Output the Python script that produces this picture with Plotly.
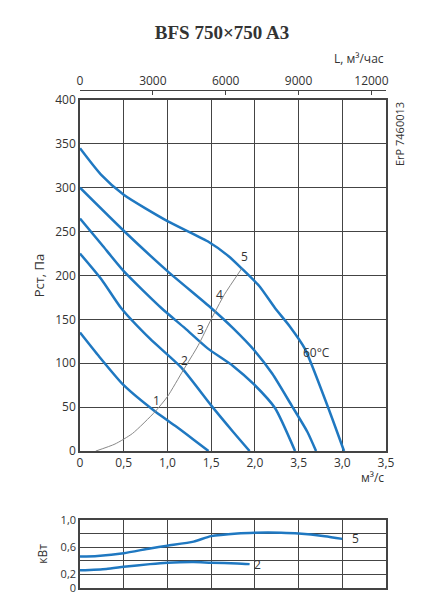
import plotly.graph_objects as go

c1_x=[0,0.2,0.5,0.86,1.1,1.3,1.47]; c1_y=[135,110,75,45,28,13,0]
c2_x=[0,0.25,0.47,0.8,1.16,1.5,1.75,1.94]; c2_y=[225,195,163,128,95,52,22,0]
c3_x=[0,0.25,0.5,0.93,1.2,1.46,1.75,2.0,2.23,2.46]; c3_y=[265,235,205,163,140,117,97,75,49,0]
c4_x=[0,0.5,1.0,1.5,1.75,2.0,2.2,2.42,2.6,2.7]; c4_y=[300,251,205,163,140,114,88,52,22,0]
c5_x=[0,0.24,0.5,1.0,1.46,1.7,1.85,2.05,2.23,2.4,2.57,2.84,3.02]; c5_y=[345,315,292,262,239,222,208,188,163,142,117,49,0]
sys_x=[0.18,0.4,0.6,0.86,1.0,1.18,1.35,1.5,1.65,1.85]; sys_y=[0,8,20,45,62,92,120,150,178,208]
p5_x=[0,0.2,0.5,0.8,1.0,1.3,1.5,1.8,2.0,2.3,2.5,2.8,3.0]; p5_y=[0.46,0.47,0.51,0.58,0.62,0.68,0.76,0.80,0.81,0.81,0.80,0.76,0.72]
p2_x=[0,0.3,0.5,0.8,1.0,1.3,1.5,1.8,1.94]; p2_y=[0.26,0.28,0.31,0.35,0.37,0.38,0.37,0.36,0.35]
x_ticks=[0,0.5,1,1.5,2,2.5,3,3.5]; x_labels=["0","0,5","1,0","1,5","2,0","3,5","3,0","3,5"]
top_ticks=[0,3000,6000,9000,12000]; top_labels=["0","3000","6000","9000","12000"]
y_ticks=[0,50,100,150,200,250,300,350,400]
p_ticks=[0,0.2,0.4,0.6,0.8,1.0]; p_labels=["0","0,2","","0,6","","1,0"]

blue="#1f78c1"; txt="#333333"
fig=go.Figure()
for x,y in [(c1_x,c1_y),(c2_x,c2_y),(c3_x,c3_y),(c4_x,c4_y),(c5_x,c5_y)]:
    fig.add_trace(go.Scatter(x=x,y=y,mode="lines",line=dict(color=blue,width=2.5,shape="spline",smoothing=0.6),xaxis="x",yaxis="y"))
fig.add_trace(go.Scatter(x=sys_x,y=sys_y,mode="lines",line=dict(color="#888",width=1,shape="spline",smoothing=0.6),xaxis="x",yaxis="y"))
for x,y in [(p5_x,p5_y),(p2_x,p2_y)]:
    fig.add_trace(go.Scatter(x=x,y=y,mode="lines",line=dict(color=blue,width=2.5,shape="spline",smoothing=0.6),xaxis="x2",yaxis="y2"))
fig.add_trace(go.Scatter(x=[0],y=[None],xaxis="x3",yaxis="y",showlegend=False))

ax=dict(showline=True,linecolor="#444",linewidth=1.5,mirror=True,gridcolor="#444",gridwidth=1,zeroline=False,
        tickfont=dict(size=12,color=txt),ticks="",automargin=False)
fig.update_layout(
    width=428,height=600,showlegend=False,plot_bgcolor="white",paper_bgcolor="white",
    margin=dict(l=72,r=50,t=82,b=20),font=dict(family="Open Sans",color=txt),
    xaxis=dict(ax,range=[0,3.5],tickvals=x_ticks,ticktext=x_labels,anchor="y"),
    yaxis=dict(ax,range=[0,400],tickvals=y_ticks,domain=[0.275,0.98],
               title=dict(text="Рст, Па",font=dict(size=13),standoff=8)),
    xaxis2=dict(ax,range=[0,3.5],tickvals=x_ticks,showticklabels=False,anchor="y2"),
    yaxis2=dict(ax,range=[0,1],tickvals=p_ticks,ticktext=p_labels,domain=[0,0.137],
                tickfont=dict(size=11,color=txt),title=dict(text="кВт",font=dict(size=12),standoff=10)),
    xaxis3=dict(range=[0,12600],tickvals=top_ticks,ticktext=top_labels,overlaying="x",side="top",anchor="free",position=1,
                showline=True,linecolor="#444",showgrid=False,ticks="inside",ticklen=4,tickcolor="#444",
                tickfont=dict(size=12,color=txt),zeroline=False,automargin=False),
    title=dict(text="<b>BFS 750×750 A3</b>",x=0.5,y=0.97,font=dict(family="Liberation Serif",size=19,color=txt)),
)
ann=[("5",1.88,222),("4",1.6,178),("3",1.38,138),("2",1.2,103),("1",0.87,58),("60°C",2.7,112)]
for t,x,y in ann:
    fig.add_annotation(x=x,y=y,text=t,showarrow=False,xref="x",yref="y",font=dict(size=12,color=txt))
fig.add_annotation(x=3.15,y=0.72,text="5",showarrow=False,xref="x2",yref="y2",font=dict(size=12,color=txt))
fig.add_annotation(x=2.03,y=0.34,text="2",showarrow=False,xref="x2",yref="y2",font=dict(size=12,color=txt))
fig.add_annotation(x=1,y=1.085,xref="paper",yref="paper",text="L, м³/час",showarrow=False,xanchor="right",font=dict(size=12,color=txt))
fig.add_annotation(x=1,y=0.20,xref="paper",yref="paper",text="м³/с",showarrow=False,xanchor="right",font=dict(size=12,color=txt))
fig.add_annotation(x=1.015,y=0.98,xref="paper",yref="paper",text="ErP 7460013",textangle=-90,showarrow=False,
                   xanchor="left",yanchor="top",font=dict(size=11,color=txt))
fig.write_html("out.html")
